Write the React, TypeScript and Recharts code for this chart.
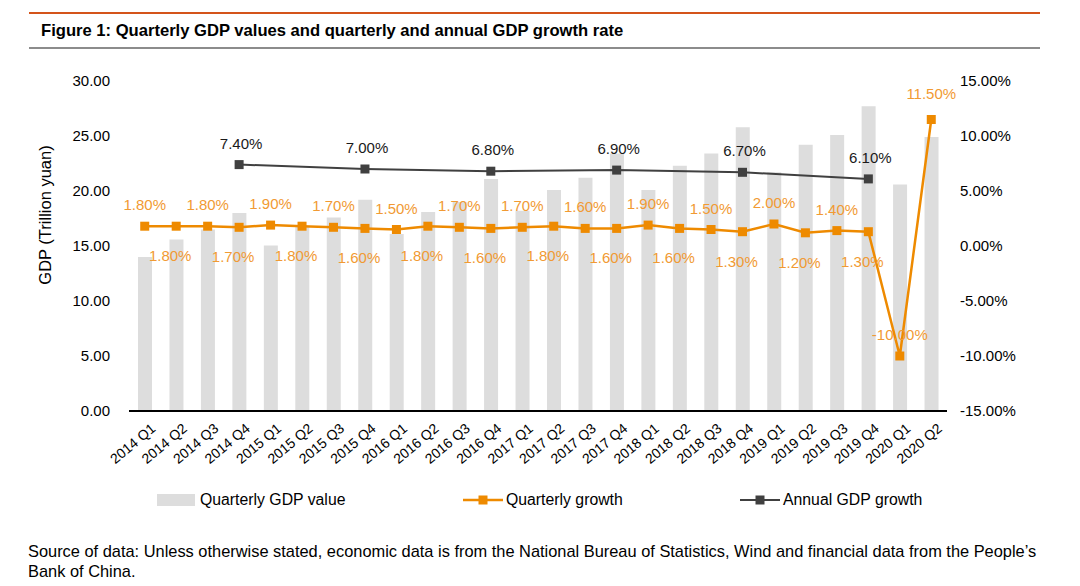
import React from "react";
import {
  Bar,
  ComposedChart,
  LabelList,
  Line,
  XAxis,
  YAxis,
} from "recharts";

const QUARTERS = [
  "2014 Q1", "2014 Q2", "2014 Q3", "2014 Q4",
  "2015 Q1", "2015 Q2", "2015 Q3", "2015 Q4",
  "2016 Q1", "2016 Q2", "2016 Q3", "2016 Q4",
  "2017 Q1", "2017 Q2", "2017 Q3", "2017 Q4",
  "2018 Q1", "2018 Q2", "2018 Q3", "2018 Q4",
  "2019 Q1", "2019 Q2", "2019 Q3", "2019 Q4",
  "2020 Q1", "2020 Q2",
];

// trillion yuan
const GDP_VALUES = [
  14.0, 15.6, 16.5, 18.0,
  15.05, 16.8, 17.6, 19.2,
  16.1, 18.1, 19.0, 21.1,
  18.2, 20.1, 21.2, 23.4,
  20.1, 22.3, 23.4, 25.8,
  21.7, 24.2, 25.1, 27.7,
  20.6, 24.9,
];

const QUARTERLY_GROWTH = [
  1.8, 1.8, 1.8, 1.7,
  1.9, 1.8, 1.7, 1.6,
  1.5, 1.8, 1.7, 1.6,
  1.7, 1.8, 1.6, 1.6,
  1.9, 1.6, 1.5, 1.3,
  2.0, 1.2, 1.4, 1.3,
  -10.0, 11.5,
];

const ANNUAL_GROWTH: (number | null)[] = [
  null, null, null, 7.4,
  null, null, null, 7.0,
  null, null, null, 6.8,
  null, null, null, 6.9,
  null, null, null, 6.7,
  null, null, null, 6.1,
  null, null,
];

const LEFT_TICKS = [0, 5, 10, 15, 20, 25, 30];
const RIGHT_TICKS = [-15, -10, -5, 0, 5, 10, 15];

const FONT = '"Liberation Sans", Arial, sans-serif';
const ORANGE = "#EE8A00";
const ORANGE_TEXT = "#F19A33";
const DARK = "#404040";
const BAR_GREY = "#DDDDDD";

const data = QUARTERS.map((q, i) => ({
  quarter: q,
  gdp: GDP_VALUES[i],
  quarterly: QUARTERLY_GROWTH[i],
  annual: ANNUAL_GROWTH[i],
}));

function SquareDot({ cx, cy, fill, size }: any) {
  if (cx == null || cy == null) return null;
  return <rect x={cx - size / 2} y={cy - size / 2} width={size} height={size} fill={fill} />;
}

function QuarterTick({ x, y, payload }: any) {
  return (
    <g transform={`translate(${x + 5},${y + 3})`}>
      <text
        textAnchor="end"
        transform="rotate(-40)"
        dy="0.75em"
        fontSize={14}
        fill="#000"
        fontFamily={FONT}
      >
        {payload.value}
      </text>
    </g>
  );
}

function QuarterlyLabel({ x, y, value, index }: any) {
  // alternate above / below like the source; last point sits above
  const last = index === QUARTERS.length - 1;
  const above = index % 2 === 0 || last;
  return (
    <text
      x={above ? x : x - 6}
      y={above ? y - (last ? 21 : 16) : y + 35}
      textAnchor="middle"
      fontSize={15}
      fill={ORANGE_TEXT}
      fontFamily={FONT}
    >
      {value.toFixed(2)}%
    </text>
  );
}

function AnnualLabel({ x, y, value }: any) {
  if (value == null) return null;
  return (
    <text x={x + 2} y={y - 16} textAnchor="middle" fontSize={15} fill="#1a1a1a" fontFamily={FONT}>
      {value.toFixed(2)}%
    </text>
  );
}

function LegendRow() {
  const item = { position: "absolute" as const, top: 491, display: "flex", alignItems: "center", fontSize: 15.8 };
  return (
    <>
      <div style={{ ...item, left: 157 }}>
        <span style={{ width: 38, height: 12, background: BAR_GREY, marginRight: 5 }} />
        Quarterly GDP value
      </div>
      <div style={{ ...item, left: 463 }}>
        <svg width={40} height={12} style={{ marginRight: 3 }}>
          <line x1={0} y1={6} x2={40} y2={6} stroke={ORANGE} strokeWidth={2.5} />
          <rect x={15.5} y={1.5} width={9} height={9} fill={ORANGE} />
        </svg>
        Quarterly growth
      </div>
      <div style={{ ...item, left: 740 }}>
        <svg width={40} height={12} style={{ marginRight: 3 }}>
          <line x1={0} y1={6} x2={40} y2={6} stroke={DARK} strokeWidth={2} />
          <rect x={15.5} y={1.5} width={9} height={9} fill={DARK} />
        </svg>
        Annual GDP growth
      </div>
    </>
  );
}

export default function App() {
  return (
    <div
      style={{
        position: "absolute",
        top: 0,
        left: 0,
        width: 1080,
        height: 586,
        background: "#fff",
        fontFamily: FONT,
        color: "#000",
        overflow: "hidden",
      }}
    >
      <div style={{ position: "absolute", left: 29, top: 12, width: 1011, height: 2, background: "#D4541A" }} />
      <div style={{ position: "absolute", left: 41, top: 21, fontSize: 16.6, fontWeight: "bold" }}>
        Figure 1: Quarterly GDP values and quarterly and annual GDP growth rate
      </div>
      <div style={{ position: "absolute", left: 29, top: 47, width: 1011, height: 2, background: "#8C8C8C" }} />

      <div
        style={{
          position: "absolute",
          left: 45,
          top: 215,
          fontSize: 16.5,
          whiteSpace: "nowrap",
          transform: "translate(-50%, -50%) rotate(-90deg)",
        }}
      >
        GDP (Trillion yuan)
      </div>

      <div style={{ position: "absolute", left: 0, top: 0 }}>
        <ComposedChart
          width={1080}
          height={586}
          data={data}
          margin={{ top: 81, right: 73, bottom: 115, left: 69 }}
          barCategoryGap={0}
        >
          <XAxis
            dataKey="quarter"
            interval={0}
            height={60}
            tickLine={false}
            axisLine={{ stroke: "#000", strokeWidth: 2 }}
            tick={<QuarterTick />}
          />
          <YAxis
            yAxisId="left"
            width={60}
            domain={[0, 30]}
            ticks={LEFT_TICKS}
            tickFormatter={(v: number) => v.toFixed(2)}
            axisLine={false}
            tickLine={false}
            tickSize={0}
            tickMargin={19}
            tick={{ fontSize: 15, fill: "#000", fontFamily: FONT }}
          />
          <YAxis
            yAxisId="right"
            orientation="right"
            width={60}
            domain={[-15, 15]}
            ticks={RIGHT_TICKS}
            tickFormatter={(v: number) => `${v.toFixed(2)}%`}
            axisLine={false}
            tickLine={false}
            tickSize={0}
            tickMargin={13}
            tick={{ fontSize: 15, fill: "#000", fontFamily: FONT, textAnchor: "start" }}
          />
          <Bar yAxisId="left" dataKey="gdp" fill={BAR_GREY} barSize={14} isAnimationActive={false} />
          <Line
            yAxisId="right"
            dataKey="annual"
            stroke={DARK}
            strokeWidth={2}
            connectNulls
            dot={<SquareDot fill={DARK} size={9} />}
            activeDot={false}
            isAnimationActive={false}
          >
            <LabelList dataKey="annual" content={<AnnualLabel />} />
          </Line>
          <Line
            yAxisId="right"
            dataKey="quarterly"
            stroke={ORANGE}
            strokeWidth={2.5}
            dot={<SquareDot fill={ORANGE} size={9} />}
            activeDot={false}
            isAnimationActive={false}
          >
            <LabelList dataKey="quarterly" content={<QuarterlyLabel />} />
          </Line>
        </ComposedChart>
      </div>

      <LegendRow />

      <div style={{ position: "absolute", left: 28, top: 541, width: 1022, fontSize: 16.4, lineHeight: "20px" }}>
        Source of data: Unless otherwise stated, economic data is from the National Bureau of Statistics, Wind and financial data from the People’s Bank of China.
      </div>
    </div>
  );
}
